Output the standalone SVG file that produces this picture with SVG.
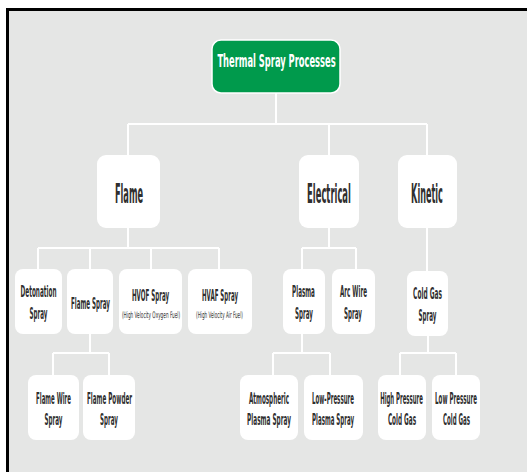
<svg xmlns="http://www.w3.org/2000/svg" width="527" height="472" viewBox="0 0 527 472">
<style>
.bg{fill:#e5e6e5}
.box{fill:#ffffff}
.root{fill:#009a4c;stroke:#ffffff;stroke-width:1.5}
.con{stroke:#ffffff;stroke-width:2;fill:none}
text{font-family:"Liberation Sans Narrow","DejaVu Sans Condensed","Liberation Sans",sans-serif;font-weight:bold;fill:#2f2f2f;text-anchor:middle}
.t0{font-size:18px;fill:#ffffff}
.t1{font-size:27px}
.t2{font-size:16px}
.ts{font-size:9px;font-weight:normal}
</style>
<rect x="0" y="0" width="527" height="472" fill="#ffffff"/>
<rect class="bg" x="8" y="10" width="519" height="462"/>
<path d="M7.5 472 V9.5 H527" stroke="#000000" stroke-width="3" fill="none"/>
<g id="connectors">
<path class="con" d="M276 93 V124 M128 124 H427 M128 124 V155 M329 124 V155 M427 124 V155"/>
<path class="con" d="M128 228 V248 M38 248 H219 M38 248 V269 M90 248 V269 M151 248 V269 M219 248 V269"/>
<path class="con" d="M329 228 V248 M302 248 H356 M302 248 V269 M356 248 V269"/>
<path class="con" d="M427 228 V271"/>
<path class="con" d="M90 334 V353 M53 353 H109 M53 353 V375 M109 353 V375"/>
<path class="con" d="M302 334 V353 M273 353 H330 M273 353 V375 M330 353 V375"/>
<path class="con" d="M428 336 V353 M400 353 H456 M400 353 V375 M456 353 V375"/>
</g>
<g id="root">
<rect class="root" x="212" y="40" width="128" height="53" rx="9"/>
<text class="t0" transform="translate(276.5 67) scale(0.6 1)" textLength="197" lengthAdjust="spacingAndGlyphs">Thermal Spray Processes</text>
</g>
<g id="flame">
<rect class="box" x="97" y="155" width="63" height="73" rx="9"/>
<text class="t1" transform="translate(129 203) scale(0.6 1)" textLength="47" lengthAdjust="spacingAndGlyphs">Flame</text>
</g>
<g id="electrical">
<rect class="box" x="299" y="155" width="60" height="73" rx="9"/>
<text class="t1" transform="translate(329 203) scale(0.6 1)" textLength="73" lengthAdjust="spacingAndGlyphs">Electrical</text>
</g>
<g id="kinetic">
<rect class="box" x="398" y="155" width="59" height="73" rx="9"/>
<text class="t1" transform="translate(427 203) scale(0.6 1)" textLength="53" lengthAdjust="spacingAndGlyphs">Kinetic</text>
</g>
<g id="detonation">
<rect class="box" x="15" y="269" width="47" height="65" rx="8"/>
<text class="t2" transform="translate(38.5 297) scale(0.6 1)" textLength="60" lengthAdjust="spacingAndGlyphs">Detonation</text>
<text class="t2" transform="translate(38.5 319) scale(0.6 1)" textLength="30" lengthAdjust="spacingAndGlyphs">Spray</text>
</g>
<g id="flame-spray">
<rect class="box" x="67" y="269" width="46" height="65" rx="8"/>
<text class="t2" transform="translate(90.5 309) scale(0.6 1)" textLength="65" lengthAdjust="spacingAndGlyphs">Flame Spray</text>
</g>
<g id="hvof">
<rect class="box" x="119" y="269" width="63" height="65" rx="8"/>
<text class="t2" transform="translate(150.5 301) scale(0.6 1)" textLength="62" lengthAdjust="spacingAndGlyphs">HVOF Spray</text>
<text class="ts" transform="translate(151 318) scale(0.6 1)" textLength="97" lengthAdjust="spacingAndGlyphs">(High Velocity Oxygen Fuel)</text>
</g>
<g id="hvaf">
<rect class="box" x="188" y="269" width="64" height="65" rx="8"/>
<text class="t2" transform="translate(220 301) scale(0.6 1)" textLength="60" lengthAdjust="spacingAndGlyphs">HVAF Spray</text>
<text class="ts" transform="translate(219.5 318) scale(0.6 1)" textLength="78" lengthAdjust="spacingAndGlyphs">(High Velocity Air Fuel)</text>
</g>
<g id="plasma-spray">
<rect class="box" x="283" y="269" width="42" height="65" rx="8"/>
<text class="t2" transform="translate(303.5 297) scale(0.6 1)" textLength="38" lengthAdjust="spacingAndGlyphs">Plasma</text>
<text class="t2" transform="translate(304 319) scale(0.6 1)" textLength="30" lengthAdjust="spacingAndGlyphs">Spray</text>
</g>
<g id="arc-wire">
<rect class="box" x="332" y="269" width="43" height="65" rx="8"/>
<text class="t2" transform="translate(353.5 297) scale(0.6 1)" textLength="45" lengthAdjust="spacingAndGlyphs">Arc Wire</text>
<text class="t2" transform="translate(353 319) scale(0.6 1)" textLength="30" lengthAdjust="spacingAndGlyphs">Spray</text>
</g>
<g id="cold-gas-spray">
<rect class="box" x="407" y="271" width="41" height="65" rx="8"/>
<text class="t2" transform="translate(427.5 299) scale(0.6 1)" textLength="48" lengthAdjust="spacingAndGlyphs">Cold Gas</text>
<text class="t2" transform="translate(427.5 321) scale(0.6 1)" textLength="30" lengthAdjust="spacingAndGlyphs">Spray</text>
</g>
<g id="flame-wire">
<rect class="box" x="28" y="375" width="51" height="65" rx="8"/>
<text class="t2" transform="translate(53.5 404) scale(0.6 1)" textLength="58" lengthAdjust="spacingAndGlyphs">Flame Wire</text>
<text class="t2" transform="translate(53.5 425) scale(0.6 1)" textLength="30" lengthAdjust="spacingAndGlyphs">Spray</text>
</g>
<g id="flame-powder">
<rect class="box" x="83" y="375" width="52" height="65" rx="8"/>
<text class="t2" transform="translate(109.5 404) scale(0.6 1)" textLength="75" lengthAdjust="spacingAndGlyphs">Flame Powder</text>
<text class="t2" transform="translate(109 425) scale(0.6 1)" textLength="30" lengthAdjust="spacingAndGlyphs">Spray</text>
</g>
<g id="atmospheric">
<rect class="box" x="240" y="375" width="58" height="65" rx="8"/>
<text class="t2" transform="translate(269 404) scale(0.6 1)" textLength="67" lengthAdjust="spacingAndGlyphs">Atmospheric</text>
<text class="t2" transform="translate(269 425) scale(0.6 1)" textLength="73" lengthAdjust="spacingAndGlyphs">Plasma Spray</text>
</g>
<g id="low-pressure-plasma">
<rect class="box" x="304" y="375" width="59" height="65" rx="8"/>
<text class="t2" transform="translate(333 404) scale(0.6 1)" textLength="70" lengthAdjust="spacingAndGlyphs">Low-Pressure</text>
<text class="t2" transform="translate(333 425) scale(0.6 1)" textLength="70" lengthAdjust="spacingAndGlyphs">Plasma Spray</text>
</g>
<g id="high-pressure-cold-gas">
<rect class="box" x="378" y="375" width="48" height="65" rx="8"/>
<text class="t2" transform="translate(401.5 404) scale(0.45 1)" textLength="95" lengthAdjust="spacingAndGlyphs">High Pressure</text>
<text class="t2" transform="translate(402 425) scale(0.6 1)" textLength="47" lengthAdjust="spacingAndGlyphs">Cold Gas</text>
</g>
<g id="low-pressure-cold-gas">
<rect class="box" x="432" y="375" width="48" height="65" rx="8"/>
<text class="t2" transform="translate(456 404) scale(0.45 1)" textLength="93" lengthAdjust="spacingAndGlyphs">Low Pressure</text>
<text class="t2" transform="translate(456.5 425) scale(0.6 1)" textLength="45" lengthAdjust="spacingAndGlyphs">Cold Gas</text>
</g>
</svg>
